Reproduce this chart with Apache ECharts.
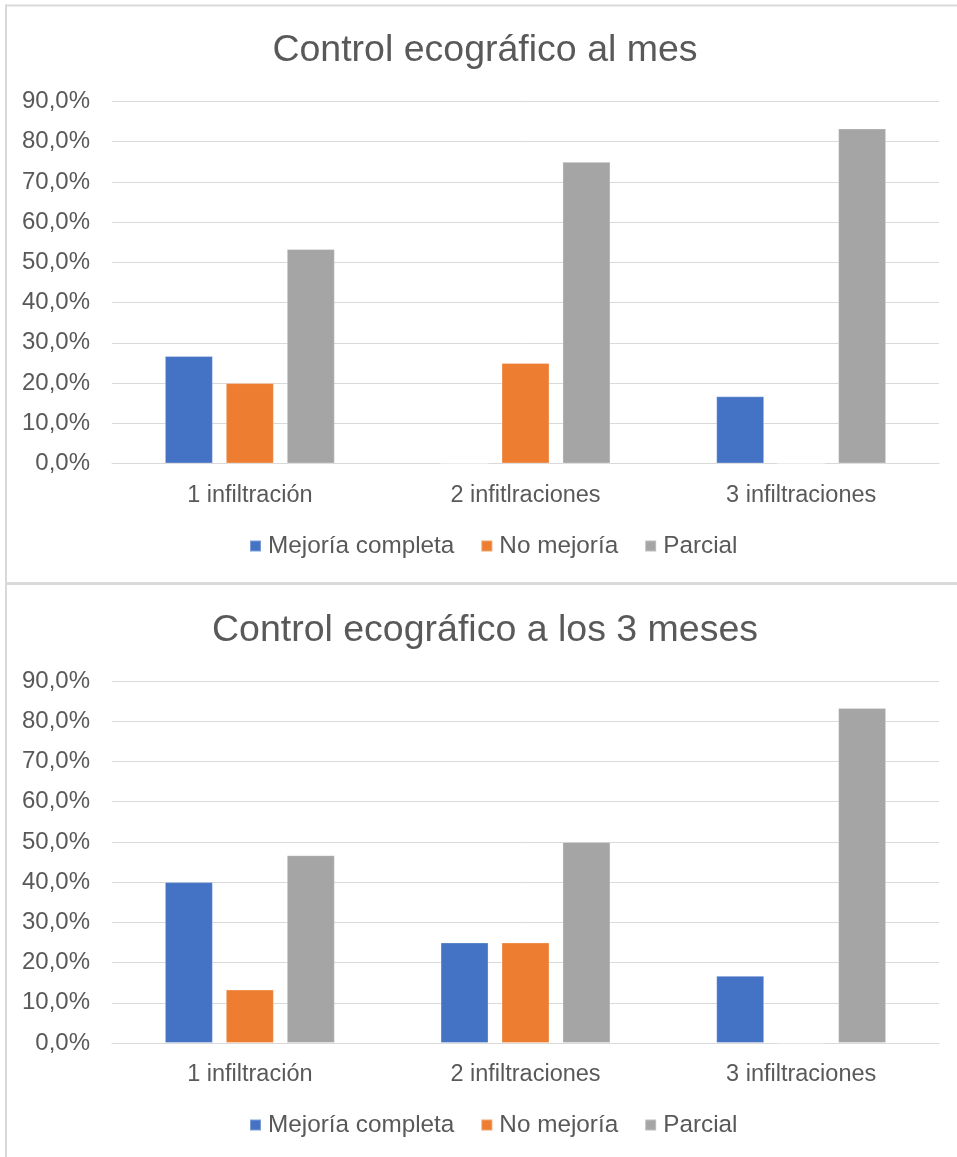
<!DOCTYPE html>
<html>
<head>
<meta charset="utf-8">
<script src="https://cdn.jsdelivr.net/npm/echarts@6/dist/echarts.min.js"></script>
<style>
html,body{margin:0;padding:0;background:#fff;}
#chart{width:957px;height:1157px;}
</style>
</head>
<body>
<div id="chart"></div>
<script>
const titles = ['Control ecográfico al mes', 'Control ecográfico a los 3 meses'];
const categoriesMes = ['1 infiltración', '2 infitlraciones', '3 infiltraciones'];
const categoriesTres = ['1 infiltración', '2 infiltraciones', '3 infiltraciones'];
const seriesNames = ['Mejoría completa', 'No mejoría', 'Parcial'];
const seriesColors = ['#4472C4', '#ED7D31', '#A5A5A5'];
const mesMejoria = [26.7, 0, 16.7];
const mesNoMejoria = [20.0, 25.0, 0];
const mesParcial = [53.3, 75.0, 83.3];
const tresMejoria = [40.0, 25.0, 16.7];
const tresNoMejoria = [13.3, 25.0, 0];
const tresParcial = [46.7, 50.0, 83.3];
const yTicks = { min: 0, max: 90, interval: 10 };

const font = '"Liberation Sans", Arial, sans-serif';
const txt = '#595959';
const grid = '#d9d9d9';

function xAxis(gi, cats) {
  return {
    type: 'category', gridIndex: gi, data: cats,
    axisLine: { lineStyle: { color: grid, width: 1 } },
    axisTick: { show: false },
    axisLabel: { color: txt, fontSize: 23.5, fontFamily: font, margin: 20 }
  };
}
function yAxis(gi) {
  return {
    type: 'value', gridIndex: gi, min: yTicks.min, max: yTicks.max, interval: yTicks.interval,
    axisLine: { show: false }, axisTick: { show: false },
    splitLine: { lineStyle: { color: grid, width: 1 } },
    axisLabel: {
      color: txt, fontSize: 24, fontFamily: font, margin: 22,
      formatter: v => v.toFixed(1).replace('.', ',') + '%'
    }
  };
}
function bar(name, idx, gi, data) {
  return {
    name: name, type: 'bar', xAxisIndex: gi, yAxisIndex: gi, data: data,
    barWidth: 48, barGap: '27%',
    itemStyle: { color: seriesColors[idx], borderColor: 'rgba(255,255,255,0.3)', borderWidth: 1 },
    emphasis: { disabled: true }
  };
}
function legend(top) {
  return {
    top: top, left: 249, padding: 0, itemWidth: 11, itemHeight: 11, itemGap: 26,
    icon: 'rect',
    data: seriesNames,
    textStyle: { color: txt, fontSize: 24.3, fontFamily: font, padding: [0, 0, 0, 2] }
  };
}

const chart = echarts.init(document.getElementById('chart'), null, { renderer: 'canvas' });
chart.setOption({
  animation: false,
  backgroundColor: '#fff',
  color: seriesColors,
  title: [
    { text: titles[0], left: 480, textAlign: 'center', top: 27,
      textStyle: { color: txt, fontSize: 37.5, fontWeight: 'normal', fontFamily: font } },
    { text: titles[1], left: 480, textAlign: 'center', top: 607,
      textStyle: { color: txt, fontSize: 37.5, fontWeight: 'normal', fontFamily: font } }
  ],
  legend: [legend(534), legend(1113)],
  grid: [
    { left: 112, width: 827, top: 101.5, height: 362 },
    { left: 112, width: 827, top: 681, height: 362 }
  ],
  xAxis: [xAxis(0, categoriesMes), xAxis(1, categoriesTres)],
  yAxis: [yAxis(0), yAxis(1)],
  series: [
    bar(seriesNames[0], 0, 0, mesMejoria),
    bar(seriesNames[1], 1, 0, mesNoMejoria),
    bar(seriesNames[2], 2, 0, mesParcial),
    bar(seriesNames[0], 0, 1, tresMejoria),
    bar(seriesNames[1], 1, 1, tresNoMejoria),
    bar(seriesNames[2], 2, 1, tresParcial)
  ],
  graphic: [
    { type: 'rect', shape: { x: 5, y: 4.5, width: 952, height: 2 }, style: { fill: grid }, silent: true },
    { type: 'rect', shape: { x: 5, y: 4.5, width: 2, height: 1153 }, style: { fill: grid }, silent: true },
    { type: 'rect', shape: { x: 5, y: 582, width: 952, height: 3 }, style: { fill: grid }, silent: true }
  ]
});
</script>
</body>
</html>
